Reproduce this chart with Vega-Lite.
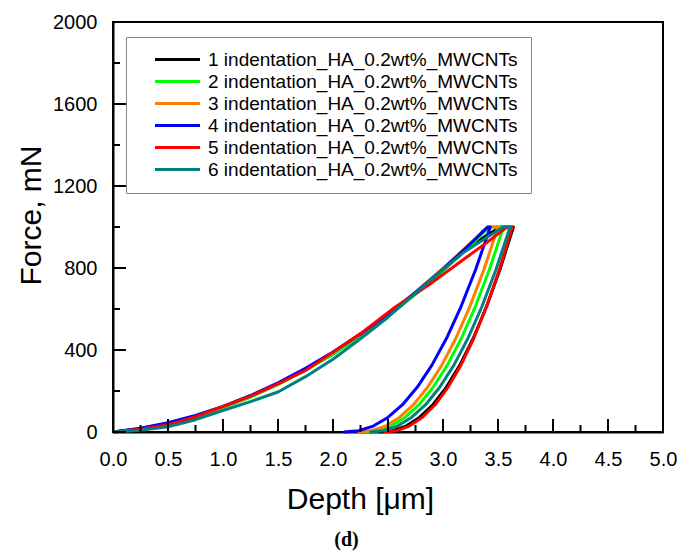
{
  "$schema": "https://vega.github.io/schema/vega-lite/v6.json",
  "width": 550,
  "height": 410,
  "autosize": {"type": "none"},
  "padding": {"left": 113, "top": 22, "right": 17, "bottom": 122},
  "background": "white",
  "config": {
    "view": {"stroke": "black", "strokeWidth": 2},
    "font": "Liberation Sans",
    "axis": {
      "grid": false,
      "domainColor": "black",
      "domainWidth": 2,
      "ticks": false,
      "labelFont": "Liberation Sans",
      "labelFontSize": 20,
      "labelColor": "black",
      "labelFlush": false,
      "titleFont": "Liberation Sans",
      "titleFontSize": 30,
      "titleFontWeight": "normal",
      "titleColor": "black"
    }
  },
  "title": {
    "text": "(d)",
    "orient": "bottom",
    "font": "Liberation Serif",
    "fontSize": 20,
    "fontWeight": "bold",
    "color": "black",
    "anchor": "middle",
    "frame": "bounds",
    "offset": 16
  },
  "data": {
    "values": [
      {"n": "1", "i": 1, "d": 0, "f": 0}, {"n": "1", "i": 2, "d": 0.25, "f": 15}, {"n": "1", "i": 3, "d": 0.5, "f": 35}, {"n": "1", "i": 4, "d": 0.75, "f": 72}, {"n": "1", "i": 5, "d": 1.0, "f": 120}, {"n": "1", "i": 6, "d": 1.25, "f": 172}, {"n": "1", "i": 7, "d": 1.5, "f": 235}, {"n": "1", "i": 8, "d": 1.75, "f": 305}, {"n": "1", "i": 9, "d": 2.0, "f": 380}, {"n": "1", "i": 10, "d": 2.25, "f": 470}, {"n": "1", "i": 11, "d": 2.5, "f": 570}, {"n": "1", "i": 12, "d": 2.75, "f": 680}, {"n": "1", "i": 13, "d": 3.0, "f": 795}, {"n": "1", "i": 14, "d": 3.2, "f": 885}, {"n": "1", "i": 15, "d": 3.4, "f": 960}, {"n": "1", "i": 16, "d": 3.52, "f": 1000}, {"n": "1", "i": 17, "d": 3.64, "f": 1000}, {"n": "1", "i": 18, "d": 3.518, "f": 793}, {"n": "1", "i": 19, "d": 3.396, "f": 612}, {"n": "1", "i": 20, "d": 3.274, "f": 456}, {"n": "1", "i": 21, "d": 3.152, "f": 325}, {"n": "1", "i": 22, "d": 3.03, "f": 218}, {"n": "1", "i": 23, "d": 2.908, "f": 133}, {"n": "1", "i": 24, "d": 2.786, "f": 71}, {"n": "1", "i": 25, "d": 2.664, "f": 29}, {"n": "1", "i": 26, "d": 2.542, "f": 6}, {"n": "1", "i": 27, "d": 2.42, "f": 0},
      {"n": "2", "i": 1, "d": 0, "f": 0}, {"n": "2", "i": 2, "d": 0.25, "f": 16}, {"n": "2", "i": 3, "d": 0.5, "f": 41}, {"n": "2", "i": 4, "d": 0.75, "f": 75}, {"n": "2", "i": 5, "d": 1.0, "f": 118}, {"n": "2", "i": 6, "d": 1.25, "f": 170}, {"n": "2", "i": 7, "d": 1.5, "f": 231}, {"n": "2", "i": 8, "d": 1.75, "f": 301}, {"n": "2", "i": 9, "d": 2.0, "f": 380}, {"n": "2", "i": 10, "d": 2.25, "f": 468}, {"n": "2", "i": 11, "d": 2.5, "f": 565}, {"n": "2", "i": 12, "d": 2.75, "f": 671}, {"n": "2", "i": 13, "d": 3.0, "f": 786}, {"n": "2", "i": 14, "d": 3.2, "f": 885}, {"n": "2", "i": 15, "d": 3.3, "f": 936}, {"n": "2", "i": 16, "d": 3.42, "f": 1000}, {"n": "2", "i": 17, "d": 3.55, "f": 1000}, {"n": "2", "i": 18, "d": 3.422, "f": 793}, {"n": "2", "i": 19, "d": 3.294, "f": 612}, {"n": "2", "i": 20, "d": 3.166, "f": 456}, {"n": "2", "i": 21, "d": 3.038, "f": 325}, {"n": "2", "i": 22, "d": 2.91, "f": 218}, {"n": "2", "i": 23, "d": 2.782, "f": 133}, {"n": "2", "i": 24, "d": 2.654, "f": 71}, {"n": "2", "i": 25, "d": 2.526, "f": 29}, {"n": "2", "i": 26, "d": 2.398, "f": 6}, {"n": "2", "i": 27, "d": 2.27, "f": 0},
      {"n": "3", "i": 1, "d": 0, "f": 0}, {"n": "3", "i": 2, "d": 0.25, "f": 17}, {"n": "3", "i": 3, "d": 0.5, "f": 43}, {"n": "3", "i": 4, "d": 0.75, "f": 78}, {"n": "3", "i": 5, "d": 1.0, "f": 122}, {"n": "3", "i": 6, "d": 1.25, "f": 175}, {"n": "3", "i": 7, "d": 1.5, "f": 237}, {"n": "3", "i": 8, "d": 1.75, "f": 308}, {"n": "3", "i": 9, "d": 2.0, "f": 388}, {"n": "3", "i": 10, "d": 2.25, "f": 477}, {"n": "3", "i": 11, "d": 2.5, "f": 575}, {"n": "3", "i": 12, "d": 2.75, "f": 682}, {"n": "3", "i": 13, "d": 3.0, "f": 798}, {"n": "3", "i": 14, "d": 3.2, "f": 897}, {"n": "3", "i": 15, "d": 3.3, "f": 949}, {"n": "3", "i": 16, "d": 3.4, "f": 1000}, {"n": "3", "i": 17, "d": 3.5, "f": 1000}, {"n": "3", "i": 18, "d": 3.372, "f": 793}, {"n": "3", "i": 19, "d": 3.244, "f": 612}, {"n": "3", "i": 20, "d": 3.116, "f": 456}, {"n": "3", "i": 21, "d": 2.988, "f": 325}, {"n": "3", "i": 22, "d": 2.86, "f": 218}, {"n": "3", "i": 23, "d": 2.732, "f": 133}, {"n": "3", "i": 24, "d": 2.604, "f": 71}, {"n": "3", "i": 25, "d": 2.476, "f": 29}, {"n": "3", "i": 26, "d": 2.348, "f": 6}, {"n": "3", "i": 27, "d": 2.22, "f": 0},
      {"n": "4", "i": 1, "d": 0, "f": 0}, {"n": "4", "i": 2, "d": 0.25, "f": 18}, {"n": "4", "i": 3, "d": 0.5, "f": 45}, {"n": "4", "i": 4, "d": 0.75, "f": 81}, {"n": "4", "i": 5, "d": 1.0, "f": 125}, {"n": "4", "i": 6, "d": 1.25, "f": 178}, {"n": "4", "i": 7, "d": 1.5, "f": 240}, {"n": "4", "i": 8, "d": 1.75, "f": 311}, {"n": "4", "i": 9, "d": 2.0, "f": 390}, {"n": "4", "i": 10, "d": 2.25, "f": 478}, {"n": "4", "i": 11, "d": 2.5, "f": 575}, {"n": "4", "i": 12, "d": 2.75, "f": 681}, {"n": "4", "i": 13, "d": 3.0, "f": 795}, {"n": "4", "i": 14, "d": 3.2, "f": 893}, {"n": "4", "i": 15, "d": 3.3, "f": 944}, {"n": "4", "i": 16, "d": 3.38, "f": 986}, {"n": "4", "i": 17, "d": 3.41, "f": 1000}, {"n": "4", "i": 18, "d": 3.43, "f": 1000}, {"n": "4", "i": 19, "d": 3.297, "f": 793}, {"n": "4", "i": 20, "d": 3.164, "f": 612}, {"n": "4", "i": 21, "d": 3.031, "f": 456}, {"n": "4", "i": 22, "d": 2.898, "f": 325}, {"n": "4", "i": 23, "d": 2.765, "f": 218}, {"n": "4", "i": 24, "d": 2.632, "f": 133}, {"n": "4", "i": 25, "d": 2.499, "f": 71}, {"n": "4", "i": 26, "d": 2.366, "f": 29}, {"n": "4", "i": 27, "d": 2.233, "f": 6}, {"n": "4", "i": 28, "d": 2.10, "f": 0},
      {"n": "5", "i": 1, "d": 0, "f": 0}, {"n": "5", "i": 2, "d": 0.25, "f": 13}, {"n": "5", "i": 3, "d": 0.5, "f": 35}, {"n": "5", "i": 4, "d": 0.75, "f": 75}, {"n": "5", "i": 5, "d": 1.0, "f": 125}, {"n": "5", "i": 6, "d": 1.25, "f": 175}, {"n": "5", "i": 7, "d": 1.5, "f": 235}, {"n": "5", "i": 8, "d": 1.75, "f": 300}, {"n": "5", "i": 9, "d": 1.96, "f": 375}, {"n": "5", "i": 10, "d": 2.25, "f": 480}, {"n": "5", "i": 11, "d": 2.57, "f": 611}, {"n": "5", "i": 12, "d": 2.87, "f": 717}, {"n": "5", "i": 13, "d": 3.18, "f": 839}, {"n": "5", "i": 14, "d": 3.4, "f": 925}, {"n": "5", "i": 15, "d": 3.57, "f": 995}, {"n": "5", "i": 16, "d": 3.63, "f": 1000}, {"n": "5", "i": 17, "d": 3.513, "f": 793}, {"n": "5", "i": 18, "d": 3.396, "f": 612}, {"n": "5", "i": 19, "d": 3.279, "f": 456}, {"n": "5", "i": 20, "d": 3.162, "f": 325}, {"n": "5", "i": 21, "d": 3.045, "f": 218}, {"n": "5", "i": 22, "d": 2.928, "f": 133}, {"n": "5", "i": 23, "d": 2.811, "f": 71}, {"n": "5", "i": 24, "d": 2.694, "f": 29}, {"n": "5", "i": 25, "d": 2.577, "f": 6}, {"n": "5", "i": 26, "d": 2.46, "f": 0},
      {"n": "6", "i": 1, "d": 0, "f": 0}, {"n": "6", "i": 2, "d": 0.25, "f": 8}, {"n": "6", "i": 3, "d": 0.5, "f": 25}, {"n": "6", "i": 4, "d": 0.75, "f": 60}, {"n": "6", "i": 5, "d": 1.0, "f": 105}, {"n": "6", "i": 6, "d": 1.25, "f": 148}, {"n": "6", "i": 7, "d": 1.5, "f": 195}, {"n": "6", "i": 8, "d": 1.75, "f": 270}, {"n": "6", "i": 9, "d": 2.0, "f": 355}, {"n": "6", "i": 10, "d": 2.25, "f": 455}, {"n": "6", "i": 11, "d": 2.5, "f": 560}, {"n": "6", "i": 12, "d": 2.87, "f": 733}, {"n": "6", "i": 13, "d": 3.18, "f": 873}, {"n": "6", "i": 14, "d": 3.4, "f": 950}, {"n": "6", "i": 15, "d": 3.55, "f": 1000}, {"n": "6", "i": 16, "d": 3.61, "f": 1000}, {"n": "6", "i": 17, "d": 3.482, "f": 793}, {"n": "6", "i": 18, "d": 3.354, "f": 612}, {"n": "6", "i": 19, "d": 3.226, "f": 456}, {"n": "6", "i": 20, "d": 3.098, "f": 325}, {"n": "6", "i": 21, "d": 2.97, "f": 218}, {"n": "6", "i": 22, "d": 2.842, "f": 133}, {"n": "6", "i": 23, "d": 2.714, "f": 71}, {"n": "6", "i": 24, "d": 2.586, "f": 29}, {"n": "6", "i": 25, "d": 2.458, "f": 6}, {"n": "6", "i": 26, "d": 2.33, "f": 0}
    ]
  },
  "layer": [
    {
      "mark": {"type": "line", "strokeWidth": 3, "strokeJoin": "round"},
      "encoding": {
        "x": {"field": "d", "type": "quantitative", "scale": {"domain": [0, 5], "nice": false},
          "axis": {"orient": "bottom", "values": [0, 0.5, 1, 1.5, 2, 2.5, 3, 3.5, 4, 4.5, 5], "format": ".1f", "labelPadding": 17,
            "title": "Depth [μm]", "titleX": 247, "titleY": 76, "titleBaseline": "alphabetic", "titleAlign": "center"}},
        "y": {"field": "f", "type": "quantitative", "scale": {"domain": [0, 2000], "nice": false},
          "axis": {"orient": "left", "values": [0, 400, 800, 1200, 1600, 2000], "format": "d", "labelPadding": 16,
            "title": "Force, mN", "titleX": -73, "titleY": 193, "titleBaseline": "alphabetic", "titleAlign": "center", "titleAngle": -90}},
        "color": {
          "field": "n", "type": "nominal",
          "scale": {"domain": ["1", "2", "3", "4", "5", "6"], "range": ["#000000", "#00ff00", "#ff8000", "#0000ff", "#ff0000", "#008080"]},
          "legend": {
            "orient": "none", "legendX": 13, "legendY": 15, "title": null,
            "symbolType": "M-3,0H3", "symbolSize": 225, "symbolStrokeWidth": 3, "symbolOffset": 29,
            "labelFont": "Liberation Sans", "labelFontSize": 19, "labelColor": "black", "labelOffset": 21,
            "labelExpr": "datum.label + ' indentation_HA_0.2wt%_MWCNTs'", "labelLimit": 0,
            "rowPadding": 2,
            "strokeColor": "#888888", "fillColor": "white", "padding": 13
          }
        },
        "order": {"field": "i"}
      }
    },
    {
      "data": {"values": [{"v": 0}, {"v": 0.5}, {"v": 1}, {"v": 1.5}, {"v": 2}, {"v": 2.5}, {"v": 3}, {"v": 3.5}, {"v": 4}, {"v": 4.5}, {"v": 5}]},
      "mark": {"type": "tick", "orient": "vertical", "size": 13, "thickness": 2, "color": "black", "opacity": 1, "yOffset": -6.5},
      "encoding": {
        "x": {"field": "v", "type": "quantitative"},
        "y": {"datum": 0, "type": "quantitative"}
      }
    },
    {
      "data": {"values": [{"v": 0.25}, {"v": 0.75}, {"v": 1.25}, {"v": 1.75}, {"v": 2.25}, {"v": 2.75}, {"v": 3.25}, {"v": 3.75}, {"v": 4.25}, {"v": 4.75}]},
      "mark": {"type": "tick", "orient": "vertical", "size": 7, "thickness": 2, "color": "black", "opacity": 1, "yOffset": -3.5},
      "encoding": {
        "x": {"field": "v", "type": "quantitative"},
        "y": {"datum": 0, "type": "quantitative"}
      }
    },
    {
      "data": {"values": [{"v": 0}, {"v": 400}, {"v": 800}, {"v": 1200}, {"v": 1600}, {"v": 2000}]},
      "mark": {"type": "tick", "orient": "horizontal", "size": 13, "thickness": 2, "color": "black", "opacity": 1, "xOffset": 6.5},
      "encoding": {
        "y": {"field": "v", "type": "quantitative"},
        "x": {"datum": 0, "type": "quantitative"}
      }
    },
    {
      "data": {"values": [{"v": 200}, {"v": 600}, {"v": 1000}, {"v": 1400}, {"v": 1800}]},
      "mark": {"type": "tick", "orient": "horizontal", "size": 7, "thickness": 2, "color": "black", "opacity": 1, "xOffset": 3.5},
      "encoding": {
        "y": {"field": "v", "type": "quantitative"},
        "x": {"datum": 0, "type": "quantitative"}
      }
    }
  ]
}
